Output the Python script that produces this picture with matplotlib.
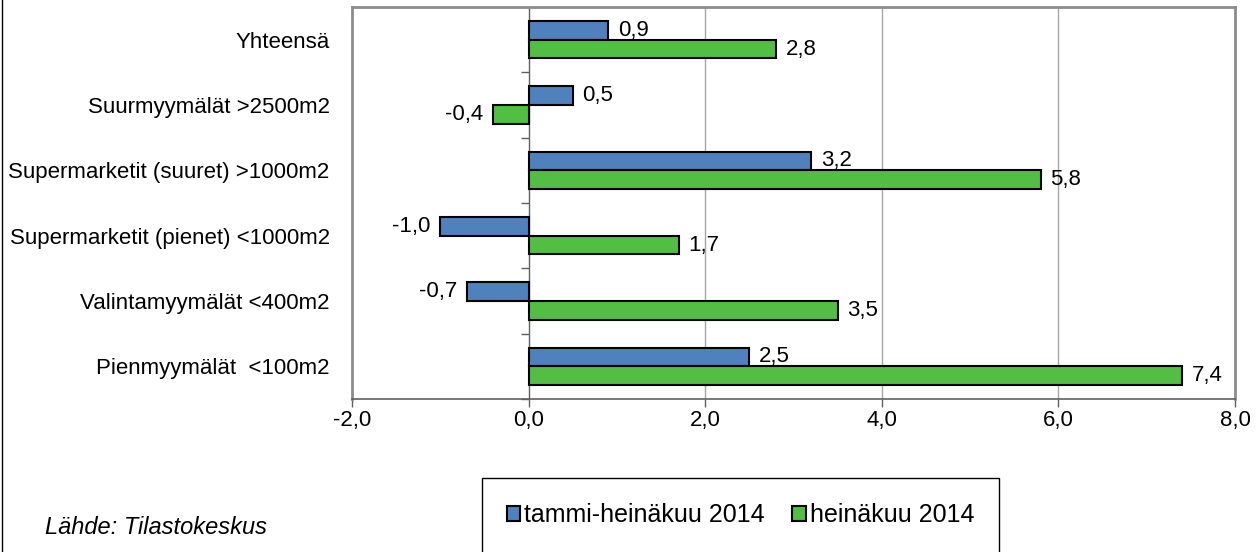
import matplotlib.pyplot as plt
import matplotlib.markers as mmarkers
from matplotlib.patches import Rectangle
from matplotlib.lines import Line2D
import numpy as np

plt.rcParams['font.family'] = ['Liberation Sans', 'DejaVu Sans']

categories = ['Yhteensä', 'Suurmyymälät >2500m2', 'Supermarketit (suuret) >1000m2',
              'Supermarketit (pienet) <1000m2', 'Valintamyymälät <400m2', 'Pienmyymälät  <100m2']
tammi_heina = [0.9, 0.5, 3.2, -1.0, -0.7, 2.5]
heina = [2.8, -0.4, 5.8, 1.7, 3.5, 7.4]
series_labels = ['tammi-heinäkuu 2014', 'heinäkuu 2014']
xticks = [-2, 0, 2, 4, 6, 8]

blue = '#4F81BD'
green = '#52BE43'

fig = plt.figure(figsize=(12.57, 5.52), dpi=100)
ax = fig.add_axes([0.280, 0.2772, 0.7025, 0.7101])

y = np.arange(len(categories))
h = 0.286
b1 = ax.barh(y - h / 2, tammi_heina, h, color=blue, edgecolor='black', linewidth=1.5,
             label=series_labels[0], zorder=3)
b2 = ax.barh(y + h / 2, heina, h, color=green, edgecolor='black', linewidth=1.5,
             label=series_labels[1], zorder=3)

def fmt(v):
    return f'{v:.1f}'.replace('.', ',')

for bars, vals in ((b1, tammi_heina), (b2, heina)):
    for bar, v in zip(bars, vals):
        yc = bar.get_y() + bar.get_height() / 2
        off = 7 if v >= 0 else -7
        ax.annotate(fmt(v), (v, yc), xytext=(off, 0), textcoords='offset points',
                    ha='left' if v >= 0 else 'right', va='center', fontsize=16, zorder=4)

ax.set_xlim(-2, 8)
ax.set_ylim(len(categories) - 0.5, -0.5)
ax.set_xticks(xticks)
ax.set_xticklabels([fmt(t) for t in xticks], fontsize=16)
ax.set_yticks(y)
ax.set_yticklabels(categories, fontsize=16)
ax.tick_params(axis='y', length=0, pad=16)
ax.tick_params(axis='x', direction='out', length=6, width=1, color='#606060', pad=2)

for t in [2, 4, 6]:
    ax.axvline(t, color='#A6A6A6', lw=1, zorder=1)
ax.axvline(0, color='#606060', lw=1, zorder=2)
bounds = np.arange(len(categories) + 1) - 0.5
ax.plot(np.zeros(len(bounds)), bounds, linestyle='none', marker=mmarkers.TICKLEFT,
        markersize=6, color='#606060', clip_on=False, zorder=2)

for s in ax.spines.values():
    s.set_color('#8C8C8C')
    s.set_linewidth(2)
ax.spines['bottom'].set_color('#606060')
ax.spines['bottom'].set_linewidth(1.2)

# figure frame line on the left
fig.add_artist(Line2D([0.0016, 0.0016], [0, 1], color='black', lw=1, transform=fig.transFigure))

# legend box
fig.add_artist(Rectangle((0.3835, -0.05), 0.411, 0.184, transform=fig.transFigure,
                         facecolor='white', edgecolor='black', lw=1))
fig.legend(handles=[b1, b2], labels=series_labels, loc='center', bbox_to_anchor=(0.589, 0.067),
           ncol=2, frameon=False, fontsize=18, handlelength=0.55, handleheight=0.55,
           handletextpad=0.15, columnspacing=1.1)

fig.text(0.036, 0.045, 'Lähde: Tilastokeskus', fontsize=17, style='italic', va='center')

plt.savefig('out.png', dpi=100)
